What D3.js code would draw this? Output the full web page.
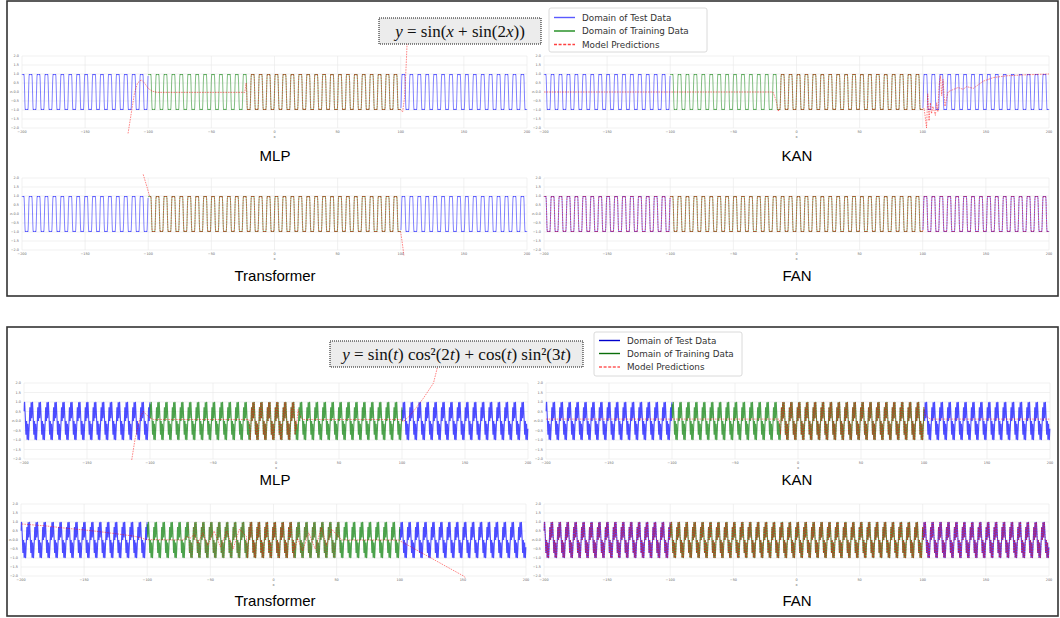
<!DOCTYPE html>
<html>
<head>
<meta charset="utf-8">
<script src="https://cdn.jsdelivr.net/npm/d3@7"></script>
<style>
body { margin: 0; background: #fff; }
svg { display: block; }
</style>
</head>
<body>
<script>
//------------------------------- data ----------------------------------------------------

const xTicks = [-200, -150, -100, -50, 0, 50, 100, 150, 200]
const yTicks = [-2, -1.5, -1, -0.5, 0, 0.5, 1, 1.5, 2]
const trainRange = [-100, 100]
const legendLabels = ["Domain of Test Data", "Domain of Training Data", "Model Predictions"]
const modelNames = ["MLP", "KAN", "Transformer", "FAN"]

// one period (2π) of each target function, read as 32 samples
const cycleA = [0, 0.547, 0.891, 0.998, 0.977, 0.944, 0.951, 0.982, 1, 0.983, 0.951, 0.944, 0.977, 0.998, 0.891, 0.547,
    0, -0.547, -0.891, -0.998, -0.977, -0.944, -0.951, -0.982, -1, -0.983, -0.951, -0.944, -0.977, -0.998, -0.891, -0.547]
const cycleB = [0, 0.469, 0.980, 0.881, 0.354, 0.143, 0.518, 0.972, 1, 0.702, 0.406, 0.101, -0.354, -0.718, -0.597, -0.136,
    0, -0.469, -0.980, -0.881, -0.354, -0.143, -0.518, -0.972, -1, -0.702, -0.406, -0.101, 0.354, 0.718, 0.597, 0.136]

// predictions : points before the fitted range, fitted range (follows target), points after,
// loose = ranges where the prediction only partly follows the target
const predA_MLP = {
    before: [[-116, -2.3], [-113.5, -1.2], [-111, -0.1], [-108.5, 0.5], [-105.5, 0.68], [-103, 0.5], [-100, 0.2], [-97, 0.05], [-93, -0.02], [-23.5, -0.02], [-22.5, 0.5]],
    fit: [-22, 100],
    after: [[101.5, -1.1], [103, -0.3], [104.3, 1.5], [105.2, 3.0]],
    loose: []
}
const predA_KAN = {
    before: [[-200, 0], [-18.6, 0], [-16, -0.5], [-14.4, -1.08]],
    fit: [-14, 99.5],
    after: [[100, -1.0], [101, -0.9], [102, -1.4], [103, -2.0], [104, -0.1], [105, -1.6], [106, -0.6], [107, -1.2], [108, -0.8],
        [110, -1.3], [111, -0.6], [112, -1.1], [113, 0.4], [114, 0.9], [115, -0.2], [116, 0.7], [117.6, -0.8], [120, 0.0],
        [122.9, 0.1], [128, 0.25], [132, 0.15], [134.8, 0.3], [140, 0.2], [147.9, 0.6], [155.9, 0.8], [166.4, 0.9], [179.6, 0.95], [200, 1.0]],
    loose: []
}
const predA_Transformer = {
    before: [[-104, 2.2], [-101, 1.5], [-99, 1.0]],
    fit: [-98.5, 100],
    after: [[101, -1.5], [102.5, -2.3]],
    loose: []
}
const predA_FAN = { before: [], fit: [-200, 200], after: [], loose: [] }

const predB_MLP = {
    before: [[-114.5, -2.05], [-112, -1.0], [-109, -0.1], [-107, 0.3], [-105.3, 0.5], [-103, 0.35], [-100, 0.15], [-97, 0.08], [-21.5, 0.08]],
    fit: [-21, 16],
    after: [[17.5, 0.6], [19, 0.3], [21, 0.08], [99, 0.08], [101, -0.03], [105, 0.2], [109, 0.5], [117, 1.2], [125, 2.0], [128, 2.8], [130, 3.5]],
    loose: []
}
const predB_KAN = {
    before: [[-200, 0.1], [-15, 0.1]],
    fit: [-14, 100],
    after: [[101, 0.3], [105, 0.1], [200, 0.1]],
    loose: []
}
const predB_Transformer = {
    before: [[-199.4, 0.89], [-180, 0.78], [-163.8, 0.65], [-150, 0.56], [-137.4, 0.46], [-125, 0.35], [-111, 0.22], [-104, 0.1], [-100.4, 0.02], [-71, 0.0], [-69, 0.2], [-66, 0.1], [-63, 0.3], [-60, -0.2], [-56, 0.4], [-52, -0.3], [-47, 0.5], [-42, -0.4], [-37, 0.5], [-32, -0.5], [-27, 0.6], [-21.5, 0.2]],
    fit: [-21, 17],
    after: [[19, 0.1], [23, -0.6], [28, 0.4], [33, -0.5], [38, 0.7], [42, -0.3], [46, 0.6], [50, 0.3], [54, 0.0], [99, 0.0], [150.5, -2.0], [152, -2.1]],
    loose: [[-68, -21], [17, 53]]
}
const predB_FAN = { before: [], fit: [-200, 200], after: [], loose: [] }

//------------------------------- layout ----------------------------------------------------

const W = 1060, H = 618

const svg = d3.select("body").append("svg")
    .attr("width", W)
    .attr("height", H)

// outer boxes
svg.append("rect").attr("x", 7).attr("y", 1).attr("width", 1051).attr("height", 295)
    .attr("fill", "none").attr("stroke", "#333").attr("stroke-width", 1.6)
svg.append("rect").attr("x", 7).attr("y", 327).attr("width", 1051).attr("height", 289)
    .attr("fill", "none").attr("stroke", "#333").attr("stroke-width", 1.6)

const groups = [
    {
        cycle: cycleA, lw: 0.9, op: 0.55,
        preds: [predA_MLP, predA_KAN, predA_Transformer, predA_FAN],
        panels: [
            { x0: 22, x1: 527, y0: 56, y1: 128, tx: 275, ty: 161 },
            { x0: 544, x1: 1049, y0: 56, y1: 128, tx: 797, ty: 161 },
            { x0: 22, x1: 527, y0: 178, y1: 250, tx: 275, ty: 281 },
            { x0: 544, x1: 1049, y0: 178, y1: 250, tx: 797, ty: 281 }
        ]
    },
    {
        cycle: cycleB, lw: 1.1, op: 0.7,
        preds: [predB_MLP, predB_KAN, predB_Transformer, predB_FAN],
        panels: [
            { x0: 24, x1: 528, y0: 383, y1: 459, tx: 275, ty: 485 },
            { x0: 546, x1: 1050, y0: 383, y1: 459, tx: 797, ty: 485 },
            { x0: 21, x1: 526, y0: 504, y1: 576, tx: 275, ty: 606 },
            { x0: 544, x1: 1049, y0: 504, y1: 576, tx: 797, ty: 606 }
        ]
    }
]

const step = 2 * Math.PI / 32
function targetSeries(cycle, lo, hi) {
    const pts = []
    for (let k = Math.ceil(lo / step); k * step <= hi; k++) {
        pts.push([k * step, cycle[((k % 32) + 32) % 32]])
    }
    return pts
}

function predSeries(cycle, p) {
    return p.before.concat(targetSeries(cycle, p.fit[0], p.fit[1]), p.after)
}

const fmt = d => (d < 0 ? "\u2212" : "") + Math.abs(d)
const fmtY = d => (d < 0 ? "\u2212" : "") + Math.abs(d).toFixed(1)

groups.forEach(gr => {
    gr.panels.forEach((pn, i) => {
        const x = d3.scaleLinear().domain([-200, 200]).range([pn.x0, pn.x1])
        const y = d3.scaleLinear().domain([-2, 2]).range([pn.y1, pn.y0])
        const g = svg.append("g")

        // grid
        g.selectAll(".gy").data(yTicks).join("line")
            .attr("x1", pn.x0).attr("x2", pn.x1)
            .attr("y1", d => y(d)).attr("y2", d => y(d))
            .attr("stroke", "#e8e8e8").attr("stroke-width", 0.6)
        g.selectAll(".gx").data(xTicks).join("line")
            .attr("x1", d => x(d)).attr("x2", d => x(d))
            .attr("y1", pn.y0).attr("y2", pn.y1)
            .attr("stroke", "#e8e8e8").attr("stroke-width", 0.6)

        // tick labels
        g.selectAll(".ty").data(yTicks).join("text")
            .attr("x", pn.x0 - 3).attr("y", d => y(d) + 1.2)
            .attr("text-anchor", "end")
            .attr("font-family", "DejaVu Sans").attr("font-size", 3.4).attr("fill", "#666")
            .text(fmtY)
        g.selectAll(".tx").data(xTicks).join("text")
            .attr("x", d => x(d)).attr("y", pn.y1 + 5)
            .attr("text-anchor", "middle")
            .attr("font-family", "DejaVu Sans").attr("font-size", 3.4).attr("fill", "#666")
            .text(fmt)
        g.append("text").attr("x", x(0)).attr("y", pn.y1 + 9.5)
            .attr("text-anchor", "middle").attr("font-family", "DejaVu Sans").attr("font-size", 3.6).attr("fill", "#666").text("x")
        g.append("text").attr("transform", `translate(${pn.x0 - 10},${y(0)}) rotate(-90)`)
            .attr("text-anchor", "middle").attr("font-family", "DejaVu Sans").attr("font-size", 3.6).attr("fill", "#666").text("y")

        const line = d3.line().x(d => x(d[0])).y(d => y(d[1]))

        // target : test domain (blue) and training domain (green)
        g.append("path").datum(targetSeries(gr.cycle, -200, trainRange[0]))
            .attr("d", line).attr("fill", "none").attr("stroke", "#0000ff")
            .attr("stroke-width", gr.lw).attr("stroke-opacity", gr.op)
        g.append("path").datum(targetSeries(gr.cycle, trainRange[1], 200))
            .attr("d", line).attr("fill", "none").attr("stroke", "#0000ff")
            .attr("stroke-width", gr.lw).attr("stroke-opacity", gr.op)
        g.append("path").datum(targetSeries(gr.cycle, trainRange[0], trainRange[1]))
            .attr("d", line).attr("fill", "none").attr("stroke", "#007a00")
            .attr("stroke-width", gr.lw).attr("stroke-opacity", gr.op)

        // predictions
        const p = gr.preds[i]
        p.loose.forEach(r => {
            g.append("path").datum(targetSeries(gr.cycle, r[0], r[1]))
                .attr("d", line).attr("fill", "none").attr("stroke", "#ff0000")
                .attr("stroke-width", 0.7).attr("stroke-opacity", 0.3)
                .attr("stroke-dasharray", "1.2,1.4")
        })
        g.append("path").datum(predSeries(gr.cycle, p))
            .attr("d", line).attr("fill", "none").attr("stroke", "#ff0000")
            .attr("stroke-width", 0.8).attr("stroke-opacity", 0.6)
            .attr("stroke-dasharray", "1.6,1")

        // title
        g.append("text").attr("x", pn.tx).attr("y", pn.ty)
            .attr("text-anchor", "middle")
            .attr("font-family", "Liberation Sans, Arial, sans-serif").attr("font-size", 15).attr("fill", "#000")
            .text(modelNames[i])
    })
})

//------------------------------- formula boxes ----------------------------------------------

function formulaBox(bx, by, bw, bh, parts) {
    svg.append("rect").attr("x", bx).attr("y", by).attr("width", bw).attr("height", bh)
        .attr("fill", "#ececec").attr("stroke", "#111").attr("stroke-width", 1)
        .attr("stroke-dasharray", "1,1")
    const t = svg.append("text").attr("x", bx + bw / 2).attr("y", by + bh / 2 + 5.5)
        .attr("text-anchor", "middle")
        .attr("font-family", "Liberation Serif, DejaVu Serif, serif").attr("font-size", 17).attr("fill", "#111")
    parts.forEach(p => {
        t.append("tspan").attr("font-style", p[1] ? "italic" : "normal").text(p[0])
    })
}

formulaBox(379, 18, 162, 26, [["y", 1], [" = sin(", 0], ["x", 1], ["  +  sin(2", 0], ["x", 1], ["))", 0]])
formulaBox(330, 341, 253, 26, [["y", 1], [" = sin(", 0], ["t", 1], [") cos\u00b2(2", 0], ["t", 1], [") + cos(", 0], ["t", 1],
    [") sin\u00b2(3", 0], ["t", 1], [")", 0]])

//------------------------------- legends ----------------------------------------------------

function legend(lx, ly, lw, lh, rowY, colors) {
    svg.append("rect").attr("x", lx).attr("y", ly).attr("width", lw).attr("height", lh)
        .attr("rx", 2).attr("fill", "#fff").attr("stroke", "#d0d0d0").attr("stroke-width", 0.8)
    legendLabels.forEach((lab, i) => {
        svg.append("line").attr("x1", lx + 5).attr("x2", lx + 26)
            .attr("y1", ly + rowY[i]).attr("y2", ly + rowY[i])
            .attr("stroke", colors[i]).attr("stroke-width", 1.4)
            .attr("stroke-dasharray", i == 2 ? "3,1.6" : null)
        svg.append("text").attr("x", lx + 33).attr("y", ly + rowY[i] + 3)
            .attr("font-family", "DejaVu Sans, sans-serif").attr("font-size", 8.8).attr("fill", "#333")
            .text(lab)
    })
}

legend(549, 8, 158, 44, [9.5, 23, 36.5], ["#5a5aff", "#1a8a1a", "#ff4040"])
legend(594, 332, 148, 44, [8.5, 21.5, 35], ["#0000cc", "#0a6e0a", "#ff5a5a"])
</script>
</body>
</html>
